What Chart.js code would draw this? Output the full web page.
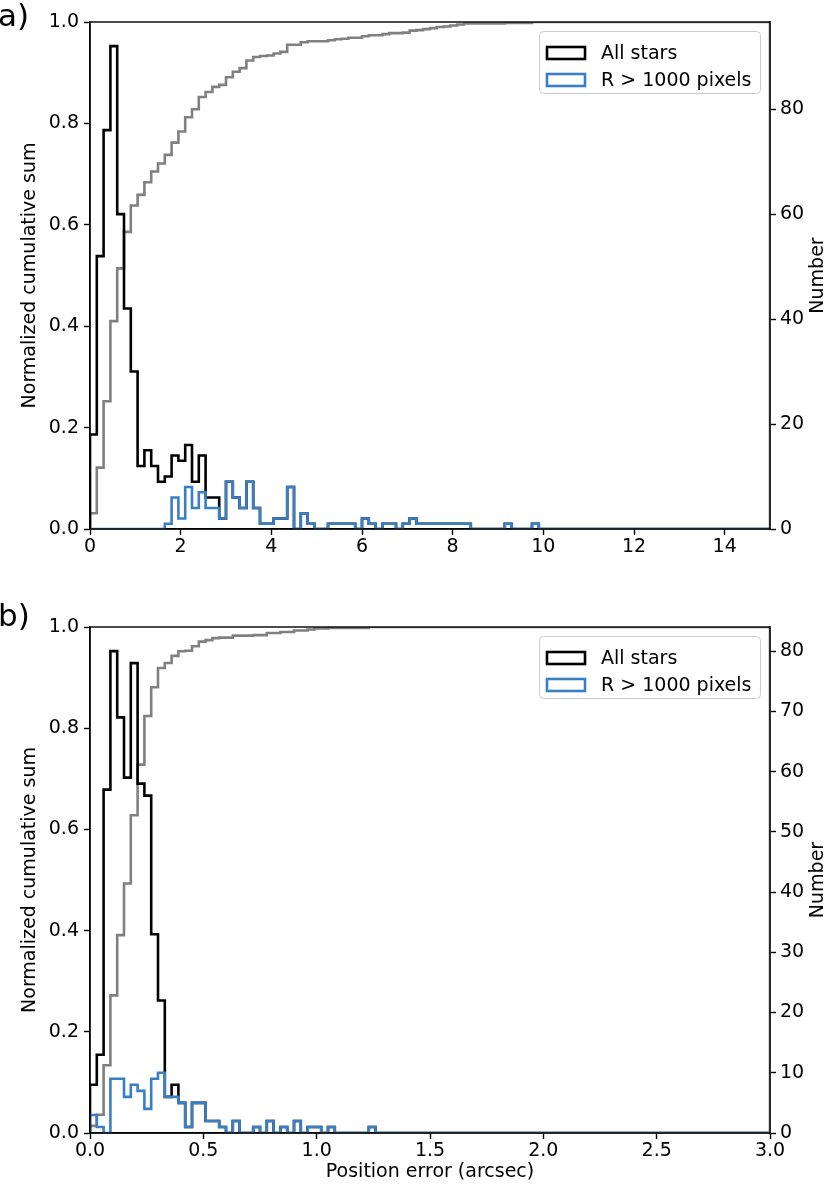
<!DOCTYPE html>
<html>
<head>
<meta charset="utf-8">
<script src="https://cdn.jsdelivr.net/npm/chart.js@4.4.1/dist/chart.umd.min.js"></script>
<style>
  html, body { margin: 0; padding: 0; background: #ffffff; }
  #wrap { position: relative; width: 830px; height: 1189px; overflow: hidden; }
  canvas { position: absolute; left: 0; }
  #chartA { top: 0px; }
  #chartB { top: 600px; }
</style>
</head>
<body>
<div id="wrap">
  <canvas id="chartA" width="830" height="600"></canvas>
  <canvas id="chartB" width="830" height="589"></canvas>
</div>
<script>
// ---------------- DATA ----------------
const panelLabels = ['a)', 'b)'];
const seriesNames = ['All stars', 'R > 1000 pixels'];
const leftAxisTitle = 'Normalized cumulative sum';
const rightAxisTitle = 'Number';
const xAxisTitle = 'Position error (arcsec)';

// histogram bin layout (100 bins each)
const rangeA = [0, 15];
const rangeB = [0, 3];
const binCount = 100;

// panel a: counts per bin (bin width 0.15 arcsec)
const allStarsA = [
  18, 52, 76, 92, 60, 42, 30, 12, 15, 12,
   9, 10, 14, 13, 16,  9, 14,  6,  6,  2,
   9,  6,  4,  9,  4,  1,  1,  2,  2,  8,
   0,  3,  1,  0,  0,  1,  1,  1,  1,  0,
   2,  1,  0,  1,  1,  0,  1,  2,  1,  1,
   1,  1,  1,  1,  1,  1,  0,  0,  0,  0,
   0,  1,  0,  0,  0,  1,  0,  0,  0,  0,
   0,  0,  0,  0,  0,  0,  0,  0,  0,  0,
   0,  0,  0,  0,  0,  0,  0,  0,  0,  0,
   0,  0,  0,  0,  0,  0,  0,  0,  0,  0
];
const largeRA = [
   0,  0,  0,  0,  0,  0,  0,  0,  0,  0,
   0,  1,  6,  2,  8,  4,  7,  4,  4,  2,
   9,  6,  4,  9,  4,  1,  1,  2,  2,  8,
   0,  3,  1,  0,  0,  1,  1,  1,  1,  0,
   2,  1,  0,  1,  1,  0,  1,  2,  1,  1,
   1,  1,  1,  1,  1,  1,  0,  0,  0,  0,
   0,  1,  0,  0,  0,  1,  0,  0,  0,  0,
   0,  0,  0,  0,  0,  0,  0,  0,  0,  0,
   0,  0,  0,  0,  0,  0,  0,  0,  0,  0,
   0,  0,  0,  0,  0,  0,  0,  0,  0,  0
];
const cumulativeA = [
  0.031, 0.121, 0.252, 0.410, 0.514, 0.586, 0.638, 0.659, 0.684, 0.705,
  0.721, 0.738, 0.762, 0.784, 0.812, 0.828, 0.852, 0.862, 0.872, 0.876,
  0.891, 0.902, 0.909, 0.924, 0.931, 0.933, 0.934, 0.938, 0.941, 0.955,
  0.955, 0.960, 0.962, 0.962, 0.962, 0.964, 0.966, 0.967, 0.969, 0.969,
  0.972, 0.974, 0.974, 0.976, 0.978, 0.978, 0.979, 0.983, 0.984, 0.986,
  0.988, 0.990, 0.991, 0.993, 0.995, 0.997, 0.997, 0.997, 0.997, 0.997,
  0.997, 0.998, 0.998, 0.998, 0.998, 1.000, 1.000, 1.000, 1.000, 1.000,
  1.000, 1.000, 1.000, 1.000, 1.000, 1.000, 1.000, 1.000, 1.000, 1.000,
  1.000, 1.000, 1.000, 1.000, 1.000, 1.000, 1.000, 1.000, 1.000, 1.000,
  1.000, 1.000, 1.000, 1.000, 1.000, 1.000, 1.000, 1.000, 1.000, 1.000
];

// panel b: counts per bin (bin width 0.03 arcsec)
const allStarsB = [
   8, 13, 57, 80, 69, 59, 78, 58, 56, 33,
  22,  6,  8,  5,  1,  5,  5,  2,  2,  1,
   0,  2,  0,  0,  1,  0,  2,  0,  1,  0,
   2,  0,  1,  1,  0,  1,  0,  0,  0,  0,
   0,  1,  0,  0,  0,  0,  0,  0,  0,  0,
   0,  0,  0,  0,  0,  0,  0,  0,  0,  0,
   0,  0,  0,  0,  0,  0,  0,  0,  0,  0,
   0,  0,  0,  0,  0,  0,  0,  0,  0,  0,
   0,  0,  0,  0,  0,  0,  0,  0,  0,  0,
   0,  0,  0,  0,  0,  0,  0,  0,  0,  0
];
const largeRB = [
   3,  1,  0,  9,  9,  6,  8,  7,  4,  9,
  10,  6,  6,  5,  1,  5,  5,  2,  2,  1,
   0,  2,  0,  0,  1,  0,  2,  0,  1,  0,
   2,  0,  1,  1,  0,  1,  0,  0,  0,  0,
   0,  1,  0,  0,  0,  0,  0,  0,  0,  0,
   0,  0,  0,  0,  0,  0,  0,  0,  0,  0,
   0,  0,  0,  0,  0,  0,  0,  0,  0,  0,
   0,  0,  0,  0,  0,  0,  0,  0,  0,  0,
   0,  0,  0,  0,  0,  0,  0,  0,  0,  0,
   0,  0,  0,  0,  0,  0,  0,  0,  0,  0
];
const cumulativeB = [
  0.014, 0.036, 0.134, 0.272, 0.391, 0.493, 0.628, 0.728, 0.824, 0.881,
  0.919, 0.929, 0.943, 0.952, 0.953, 0.962, 0.971, 0.974, 0.978, 0.979,
  0.979, 0.983, 0.983, 0.983, 0.984, 0.984, 0.988, 0.988, 0.990, 0.990,
  0.993, 0.993, 0.995, 0.997, 0.997, 0.998, 0.998, 0.998, 0.998, 0.998,
  0.998, 1.000, 1.000, 1.000, 1.000, 1.000, 1.000, 1.000, 1.000, 1.000,
  1.000, 1.000, 1.000, 1.000, 1.000, 1.000, 1.000, 1.000, 1.000, 1.000,
  1.000, 1.000, 1.000, 1.000, 1.000, 1.000, 1.000, 1.000, 1.000, 1.000,
  1.000, 1.000, 1.000, 1.000, 1.000, 1.000, 1.000, 1.000, 1.000, 1.000,
  1.000, 1.000, 1.000, 1.000, 1.000, 1.000, 1.000, 1.000, 1.000, 1.000,
  1.000, 1.000, 1.000, 1.000, 1.000, 1.000, 1.000, 1.000, 1.000, 1.000
];

// tick labels / axis ranges
const xTicksA = [0, 2, 4, 6, 8, 10, 12, 14];
const xTicksB = [0, 0.5, 1, 1.5, 2, 2.5, 3];
const leftTicks = [0, 0.2, 0.4, 0.6, 0.8, 1.0];
const rightTicksA = [0, 20, 40, 60, 80];
const rightTicksB = [0, 10, 20, 30, 40, 50, 60, 70, 80];
const rightMaxA = 96.6;
const rightMaxB = 84;

// ---------------- STYLE ----------------
const FONT_FAMILY = "'DejaVu Sans', 'Liberation Sans', sans-serif";
const FONT_SIZE = 19;
const COLOR_ALL = '#000000';
const COLOR_LARGE = '#3a7fc1';
const COLOR_CUM = '#808080';
const LINE_W = 2.6;
const SPINE_W = 1.4;

Chart.defaults.font.family = FONT_FAMILY;
Chart.defaults.font.size = FONT_SIZE;
Chart.defaults.color = '#000';

function binEdges(range) {
  const edges = [];
  for (let i = 0; i <= binCount; i++) {
    edges.push(range[0] + (range[1] - range[0]) * i / binCount);
  }
  return edges;
}

// histogram outline as step points (histtype="step")
function stepPoints(edges, values) {
  const pts = [{ x: edges[0], y: 0 }];
  values.forEach((v, i) => pts.push({ x: edges[i], y: v }));
  pts.push({ x: edges[values.length], y: 0 });
  return pts;
}

function roundRectPath(ctx, x, y, w, h, r) {
  ctx.beginPath();
  ctx.moveTo(x + r, y);
  ctx.lineTo(x + w - r, y);
  ctx.quadraticCurveTo(x + w, y, x + w, y + r);
  ctx.lineTo(x + w, y + h - r);
  ctx.quadraticCurveTo(x + w, y + h, x + w - r, y + h);
  ctx.lineTo(x + r, y + h);
  ctx.quadraticCurveTo(x, y + h, x, y + h - r);
  ctx.lineTo(x, y + r);
  ctx.quadraticCurveTo(x, y, x + r, y);
  ctx.closePath();
}

function decorPlugin(panelLabel) {
  return {
    id: 'decor',
    afterDatasetsDraw(chart) {
      const { ctx, chartArea: a } = chart;
      ctx.save();
      ctx.strokeStyle = '#000';
      ctx.lineWidth = SPINE_W;
      ctx.strokeRect(a.left, a.top, a.right - a.left, a.bottom - a.top);
      ctx.restore();
    },
    afterDraw(chart) {
      const { ctx, chartArea: a } = chart;
      ctx.save();
      // legend box
      const bw = 221, bh = 62;
      const bx = a.right - 231, by = a.top + 9;
      roundRectPath(ctx, bx + 0.5, by + 0.5, bw, bh, 4);
      ctx.fillStyle = 'rgba(255,255,255,0.8)';
      ctx.fill();
      ctx.strokeStyle = '#cccccc';
      ctx.lineWidth = 1;
      ctx.stroke();
      const rows = [
        { label: seriesNames[0], color: COLOR_ALL, dy: 22 },
        { label: seriesNames[1], color: COLOR_LARGE, dy: 49 }
      ];
      ctx.font = FONT_SIZE + 'px ' + FONT_FAMILY;
      ctx.textBaseline = 'middle';
      ctx.textAlign = 'left';
      rows.forEach(r => {
        const cy = by + r.dy;
        ctx.strokeStyle = r.color;
        ctx.lineWidth = LINE_W;
        ctx.strokeRect(bx + 8, cy - 6, 38, 12);
        ctx.fillStyle = '#000';
        ctx.fillText(r.label, bx + 62, cy + 1);
      });
      // right axis title
      ctx.save();
      ctx.translate(chart.width - 12, (a.top + a.bottom) / 2);
      ctx.rotate(-Math.PI / 2);
      ctx.textAlign = 'center';
      ctx.textBaseline = 'middle';
      ctx.fillStyle = '#000';
      ctx.font = FONT_SIZE + 'px ' + FONT_FAMILY;
      ctx.fillText(rightAxisTitle, 0, 0);
      ctx.restore();
      // panel label
      ctx.font = '31px ' + FONT_FAMILY;
      ctx.fillStyle = '#000';
      ctx.textAlign = 'left';
      ctx.textBaseline = 'middle';
      ctx.fillText(panelLabel, -2, 18);
      ctx.restore();
    }
  };
}

function axisGrid() {
  return {
    display: true,
    drawOnChartArea: false,
    drawTicks: true,
    tickLength: 6,
    tickWidth: SPINE_W,
    tickColor: '#000',
    color: '#000'
  };
}

function makePanel(canvasId, o) {
  const edges = binEdges(o.range);
  return new Chart(document.getElementById(canvasId), {
    type: 'line',
    data: {
      datasets: [
        { label: seriesNames[1], data: stepPoints(edges, o.large), borderColor: COLOR_LARGE, yAxisID: 'y2' },
        { label: seriesNames[0], data: stepPoints(edges, o.all), borderColor: COLOR_ALL, yAxisID: 'y2' },
        { label: leftAxisTitle, data: stepPoints(edges, o.cum), borderColor: COLOR_CUM, yAxisID: 'y' }
      ].map(d => Object.assign(d, {
        stepped: 'before', borderWidth: LINE_W, pointRadius: 0, fill: false,
        tension: 0, borderJoinStyle: 'miter', borderCapStyle: 'butt'
      }))
    },
    options: {
      responsive: false,
      animation: false,
      devicePixelRatio: 1,
      events: [],
      layout: { padding: o.padding },
      plugins: { legend: { display: false }, tooltip: { enabled: false } },
      scales: {
        x: {
          type: 'linear', min: o.range[0], max: o.range[1],
          grid: axisGrid(),
          border: { display: true, color: '#000', width: SPINE_W },
          ticks: { padding: 1, maxRotation: 0, autoSkip: false, callback: o.xFmt },
          afterBuildTicks: s => { s.ticks = o.xTicks.map(v => ({ value: v })); },
          afterFit: s => { s.height = o.xHeight; },
          title: o.xTitle ? { display: true, text: xAxisTitle, font: { size: FONT_SIZE }, padding: { top: 4, bottom: 4 } } : { display: false }
        },
        y: {
          type: 'linear', position: 'left', min: 0, max: 1,
          grid: axisGrid(),
          border: { display: true, color: '#000', width: SPINE_W },
          ticks: { padding: 5, autoSkip: false, callback: v => v.toFixed(1) },
          afterBuildTicks: s => { s.ticks = leftTicks.map(v => ({ value: v })); },
          afterFit: s => { s.width = 75; },
          title: { display: true, text: leftAxisTitle, font: { size: FONT_SIZE }, padding: { top: 4, bottom: 4 } }
        },
        y2: {
          type: 'linear', position: 'right', min: 0, max: o.rightMax,
          grid: axisGrid(),
          border: { display: true, color: '#000', width: SPINE_W },
          ticks: { padding: 4, autoSkip: false, callback: v => String(Math.round(v)) },
          afterBuildTicks: s => { s.ticks = o.rightTicks.map(v => ({ value: v })); },
          afterFit: s => { s.width = 60; }
        }
      }
    },
    plugins: [decorPlugin(o.panelLabel)]
  });
}

makePanel('chartA', {
  range: rangeA, all: allStarsA, large: largeRA, cum: cumulativeA,
  xTicks: xTicksA, xFmt: v => String(Math.round(v)),
  rightTicks: rightTicksA, rightMax: rightMaxA,
  padding: { left: 15, right: 0, top: 22, bottom: 0 },
  xHeight: 71, xTitle: false, panelLabel: panelLabels[0]
});

makePanel('chartB', {
  range: rangeB, all: allStarsB, large: largeRB, cum: cumulativeB,
  xTicks: xTicksB, xFmt: v => v.toFixed(1),
  rightTicks: rightTicksB, rightMax: rightMaxB,
  padding: { left: 15, right: 0, top: 27, bottom: 2 },
  xHeight: 54, xTitle: true, panelLabel: panelLabels[1]
});
</script>
</body>
</html>
